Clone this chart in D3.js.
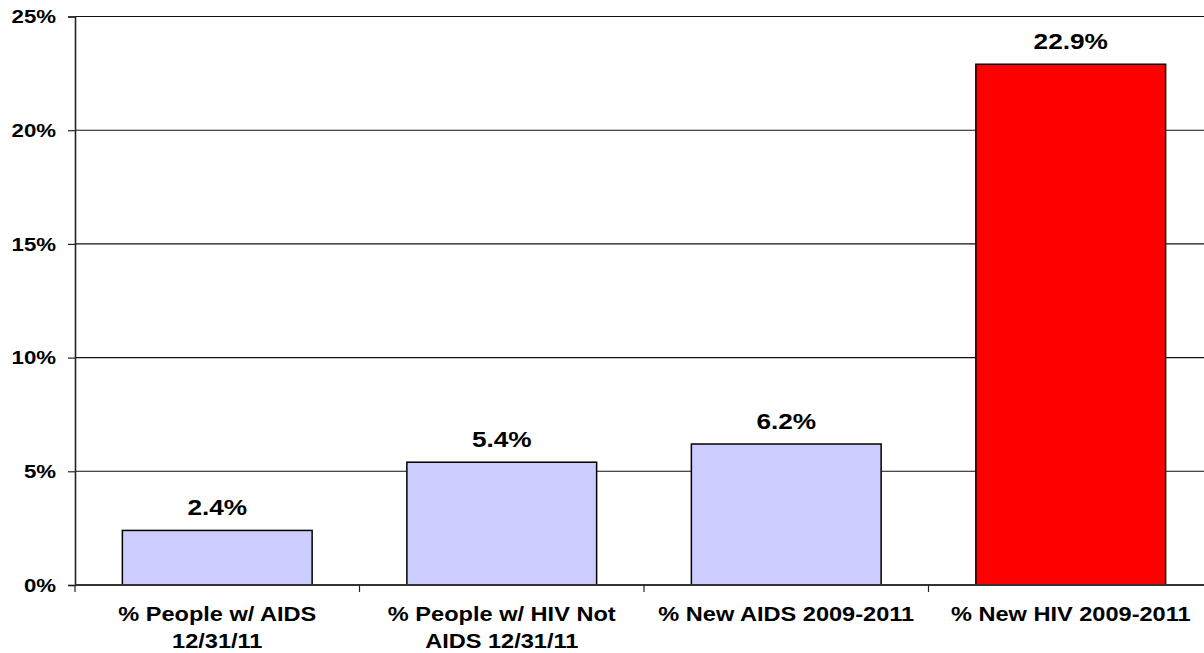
<!DOCTYPE html>
<html>
<head>
<meta charset="utf-8">
<script src="https://cdn.jsdelivr.net/npm/d3@7"></script>
<style>
  html, body { margin: 0; padding: 0; background: #fff; }
  svg { display: block; }
  text { font-family: "Liberation Sans", Arial, sans-serif; font-weight: bold; fill: #000; }
</style>
</head>
<body>
<svg id="chart" width="1204" height="653"></svg>
<script>
// Share of people by HIV/AIDS status group
const categories = [
  ["% People w/ AIDS", "12/31/11"],
  ["% People w/ HIV Not", "AIDS 12/31/11"],
  ["% New AIDS 2009-2011"],
  ["% New HIV 2009-2011"]
];
const values = [2.4, 5.4, 6.2, 22.9];
const barColors = ["#CCCCFF", "#CCCCFF", "#CCCCFF", "#FF0000"];
const yTicks = [0, 5, 10, 15, 20, 25];

const svg = d3.select("#chart");
const plotLeft = 75, plotRight = 1213, plotTop = 16.5, plotBottom = 585;

const x = d3.scaleBand()
  .domain(d3.range(categories.length))
  .range([plotLeft, plotRight])
  .paddingInner(0).paddingOuter(0);

const y = d3.scaleLinear().domain([0, 25]).range([plotBottom, plotTop]);

// horizontal gridlines
svg.append("g")
  .selectAll("line")
  .data(yTicks.filter(d => d > 0))
  .join("line")
  .attr("x1", plotLeft).attr("x2", 1204)
  .attr("y1", d => y(d)).attr("y2", d => y(d))
  .attr("stroke", "#111").attr("stroke-width", 1.1);

// y axis
const yAxis = d3.axisLeft(y)
  .tickValues(yTicks)
  .tickFormat(d => d + "%")
  .tickSize(7)
  .tickPadding(12);

const gy = svg.append("g")
  .attr("transform", `translate(${plotLeft},0)`)
  .call(yAxis);
gy.select(".domain").attr("stroke", "#222").attr("stroke-width", 1.6);
gy.selectAll(".tick line").attr("stroke", "#222").attr("stroke-width", 1.2);
gy.selectAll(".tick text")
  .attr("font-size", 17.5)
  .attr("x", null)
  .attr("dy", null)
  .attr("dominant-baseline", "central")
  .attr("transform", "translate(-19,0) scale(1.27,1)")
  .attr("text-anchor", "end");

// bars
const barW = x.bandwidth() * 0.667;
svg.append("g")
  .selectAll("rect")
  .data(values)
  .join("rect")
  .attr("x", (d, i) => x(i) + (x.bandwidth() - barW) / 2)
  .attr("y", d => y(d))
  .attr("width", barW)
  .attr("height", d => y(0) - y(d))
  .attr("fill", (d, i) => barColors[i])
  .attr("stroke", "#000")
  .attr("stroke-width", 1.5);

// value labels
svg.append("g")
  .selectAll("text")
  .data(values)
  .join("text")
  .attr("transform", (d, i) =>
    `translate(${x(i) + x.bandwidth() / 2},${y(d) - 15}) scale(1.22,1)`)
  .attr("text-anchor", "middle")
  .attr("font-size", 21.5)
  .text(d => d.toFixed(1) + "%");

// x axis line and category ticks
svg.append("line")
  .attr("x1", plotLeft).attr("x2", 1204)
  .attr("y1", plotBottom).attr("y2", plotBottom)
  .attr("stroke", "#333").attr("stroke-width", 1.8);

const bounds = d3.range(categories.length + 1).map(i =>
  i < categories.length ? x(i) : plotRight);
svg.append("g")
  .selectAll("line")
  .data(bounds)
  .join("line")
  .attr("x1", d => d).attr("x2", d => d)
  .attr("y1", plotBottom).attr("y2", plotBottom + 7)
  .attr("stroke", "#222").attr("stroke-width", 1.2);

// category labels
const cat = svg.append("g")
  .selectAll("text")
  .data(categories)
  .join("text")
  .attr("transform", (d, i) =>
    `translate(${x(i) + x.bandwidth() / 2},621) scale(1.15,1)`)
  .attr("text-anchor", "middle")
  .attr("font-size", 20.5);
cat.selectAll("tspan")
  .data(d => d)
  .join("tspan")
  .attr("x", 0)
  .attr("dy", (d, j) => j === 0 ? 0 : 27)
  .text(d => d);
</script>
</body>
</html>
